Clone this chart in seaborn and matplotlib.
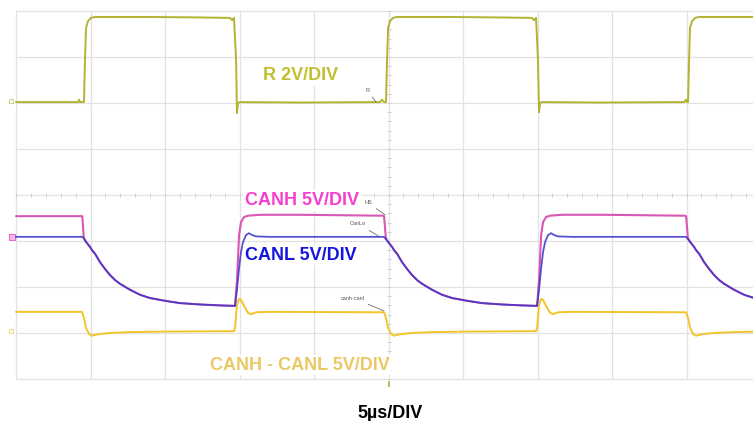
"""
CAN bus waveform capture (scope screenshot style) redrawn with seaborn.
Time in microseconds, vertical positions in screen divisions (0..8).
"""

import matplotlib

matplotlib.use("Agg")
import matplotlib.pyplot as plt
import numpy as np
import pandas as pd
import seaborn as sns

# ---- traces (t in us, v in divisions) ----
r_t = [0, 4.16, 4.23, 4.30, 4.56, 4.63, 4.70, 4.83, 5.03, 5.30, 8.99, 12.35,
       14.36, 14.50, 14.63, 14.77, 14.83, 14.90, 15.03, 19.06, 24.43, 24.56,
       24.70, 24.83, 24.90, 24.97, 25.10, 25.30, 25.57, 29.13, 32.48, 34.63,
       34.77, 34.90, 35.03, 35.10, 35.17, 35.30, 39.19, 44.83, 44.97, 45.03,
       45.10, 45.17, 45.23, 45.37, 45.57, 45.84, 49.5]
r_v = [6.02, 6.02, 6.07, 6.02, 6.02, 6.93, 7.63, 7.78, 7.85, 7.87, 7.87, 7.86,
       7.85, 7.80, 7.85, 6.93, 5.78, 6.00, 6.02, 6.01, 6.02, 6.07,
       6.02, 6.02, 6.93, 7.63, 7.78, 7.85, 7.87, 7.87, 7.86, 7.85,
       7.80, 7.85, 6.93, 5.80, 6.00, 6.02, 6.01, 6.02, 6.07, 6.02,
       6.02, 6.93, 7.63, 7.78, 7.85, 7.87, 7.87]

canh_t = [0, 4.45, 4.55, 4.70, 4.97, 5.10, 5.31, 5.64, 5.98, 6.31, 6.65, 6.98,
          7.65, 8.33, 9.00, 10.0, 11.0, 12.35, 13.69, 14.63,
          14.70, 14.83, 14.97, 15.10, 15.30, 15.57, 16.38, 19.06, 24.63, 24.70,
          24.82, 24.97, 25.24, 25.37, 25.58, 25.91, 26.25, 26.58, 26.92, 27.25,
          27.92, 28.60, 29.27, 30.27, 31.27, 32.62, 33.96, 34.90,
          34.97, 35.10, 35.24, 35.37, 35.57, 35.84, 36.65, 39.33, 44.90, 44.97,
          45.09, 45.24, 45.51, 45.64, 45.85, 46.18, 46.52, 46.85, 47.19, 47.52,
          48.19, 48.87, 49.54]
canh_v = [3.54, 3.54, 3.07, 2.98, 2.87, 2.80, 2.72, 2.54, 2.39, 2.26, 2.15, 2.07,
          1.94, 1.83, 1.76, 1.70, 1.65, 1.62, 1.60, 1.59,
          1.59, 2.15, 3.13, 3.41, 3.52, 3.55, 3.57, 3.57, 3.55, 3.54,
          3.07, 2.98, 2.87, 2.80, 2.72, 2.54, 2.39, 2.26, 2.15, 2.07,
          1.94, 1.83, 1.76, 1.70, 1.65, 1.62, 1.60, 1.59,
          1.59, 2.15, 3.13, 3.41, 3.52, 3.55, 3.57, 3.57, 3.55, 3.54,
          3.07, 2.98, 2.87, 2.80, 2.72, 2.54, 2.39, 2.26, 2.15, 2.07,
          1.94, 1.83, 1.76]

canl_t = [0, 4.48, 4.70, 4.97, 5.10, 5.31, 5.64, 5.98, 6.31, 6.65, 6.98,
          7.65, 8.33, 9.00, 10.0, 11.0, 12.35, 13.69, 14.63,
          14.70, 14.83, 14.97, 15.10, 15.24, 15.44, 15.64, 15.84, 16.11, 17.05,
          24.70, 24.97, 25.24, 25.37, 25.58, 25.91, 26.25, 26.58, 26.92, 27.25,
          27.92, 28.60, 29.27, 30.27, 31.27, 32.62, 33.96, 34.90,
          34.97, 35.10, 35.24, 35.37, 35.51, 35.71, 35.91, 36.11, 36.38, 37.32,
          44.97, 45.24, 45.51, 45.64, 45.85, 46.18, 46.52, 46.85, 47.19, 47.52,
          48.19, 48.87, 49.54]
canl_v = [3.09, 3.09, 2.98, 2.87, 2.80, 2.72, 2.54, 2.39, 2.26, 2.15, 2.07,
          1.94, 1.83, 1.76, 1.70, 1.65, 1.62, 1.60, 1.59,
          1.59, 1.94, 2.41, 2.76, 2.98, 3.13, 3.17, 3.13, 3.10, 3.09,
          3.09, 2.98, 2.87, 2.80, 2.72, 2.54, 2.39, 2.26, 2.15, 2.07,
          1.94, 1.83, 1.76, 1.70, 1.65, 1.62, 1.60, 1.59,
          1.59, 1.94, 2.41, 2.76, 2.98, 3.13, 3.17, 3.13, 3.10, 3.09,
          3.09, 2.98, 2.87, 2.80, 2.72, 2.54, 2.39, 2.26, 2.15, 2.07,
          1.94, 1.83, 1.76]

diff_t = [0, 4.43, 4.56, 4.70, 4.90, 5.10, 5.30, 5.64, 6.31, 7.65, 9.66, 14.63,
          14.70, 14.83, 14.97, 15.10, 15.30, 15.57, 15.77, 16.11, 17.05, 24.70,
          24.83, 24.97, 25.17, 25.37, 25.57, 25.91, 26.58, 27.92, 29.93, 34.90,
          34.97, 35.10, 35.24, 35.37, 35.57, 35.84, 36.04, 36.38, 37.32, 44.97,
          45.10, 45.24, 45.44, 45.64, 45.84, 46.18, 46.85, 48.19, 49.5]
diff_v = [1.46, 1.46, 1.33, 1.11, 0.98, 0.94, 0.96, 0.98, 1.00, 1.02, 1.03, 1.04,
          1.11, 1.61, 1.74, 1.72, 1.59, 1.44, 1.41, 1.45, 1.46, 1.45,
          1.33, 1.11, 0.98, 0.94, 0.96, 0.98, 1.00, 1.02, 1.03, 1.04,
          1.11, 1.61, 1.74, 1.72, 1.59, 1.44, 1.41, 1.45, 1.46, 1.45,
          1.33, 1.11, 0.98, 0.94, 0.96, 0.98, 1.00, 1.02, 1.03]

# channel labels: (text, colour, t_left, v_baseline)
labels = [
    ("R 2V/DIV", "#c2c02e", 16.58, 6.50),
    ("CANH 5V/DIV", "#f53fcf", 15.37, 3.78),
    ("CANL 5V/DIV", "#1515dd", 15.37, 2.59),
    ("CANH - CANL 5V/DIV", "#e9c865", 13.02, 0.20),
]
# small scope tags with leader lines: (text, tag pos, trace point)
tags = [
    ("R", (23.56, 6.28), (24.16, 6.02)),
    ("HS", (23.62, 3.83), (24.77, 3.57)),
    ("CanLo", (22.95, 3.37), (24.43, 3.09)),
    ("canh-canl", (22.62, 1.76), (24.70, 1.48)),
]

sns.set_theme(style="white")
plt.rcParams["font.family"] = ["Liberation Sans", "DejaVu Sans"]

fig = plt.figure(figsize=(7.53, 4.21), dpi=100)
ax = fig.add_axes([0, 0, 1, 1])
ax.set_xlim(-1.074, 49.46)
ax.set_ylim(-0.913, 8.239)

# screen graticule
grid_c = "#e2e2e2"
for t in range(0, 50, 5):
    ax.plot([t, t], [0, 8], color=grid_c, lw=0.9, zorder=1)
for v in range(0, 9):
    ax.plot([0, 49.46], [v, v], color=grid_c, lw=0.9, zorder=1)
mt = np.arange(0, 49.5, 1.0)
ax.plot(mt, np.full_like(mt, 4.0), ls="none", marker="|", ms=3,
        color="#cfcfcf", mew=0.7, zorder=1)
mv = np.arange(0, 8.01, 0.2)
ax.plot(np.full_like(mv, 25.0), mv, ls="none", marker="_", ms=3,
        color="#cfcfcf", mew=0.7, zorder=1)

traces = [
    (r_t, r_v, "#b3b332", 1.4, 1.0),
    (diff_t, diff_v, "#f2c52a", 1.4, 1.0),
    (canh_t, canh_v, "#d957b4", 1.5, 1.0),
    (canl_t, canl_v, "#3a34c8", 1.3, 0.85),
]
for tt, vv, col, lw, a in traces:
    df = pd.DataFrame({"t": tt, "v": vv})
    sns.lineplot(data=df, x="t", y="v", sort=False, estimator=None,
                 color=col, lw=lw, alpha=a, ax=ax, zorder=3)
ax.axis("off")

# channel ground markers at the left edge
ax.plot([-0.35], [6.05], marker="s", ms=3.5, mfc="none", mec="#d6d68a", mew=0.8)
ax.plot([-0.30], [3.09], marker="s", ms=4, mfc="#f3b6e6", mec="#e070c8", mew=0.8)
ax.plot([-0.35], [1.05], marker="s", ms=3.5, mfc="none", mec="#efd98a", mew=0.8)
ax.plot([25.0], [-0.1], marker="|", ms=5, color="#a8b23a", mew=1.2)

for txt, (tx, ty), (px, py) in tags:
    ax.annotate(txt, xy=(px, py), xytext=(tx, ty), fontsize=4, color="#555555",
                ha="center", va="center",
                arrowprops=dict(arrowstyle="-", color="#555555", lw=0.5,
                                shrinkA=1, shrinkB=0), zorder=4)

for txt, col, tx, ty in labels:
    ax.text(tx, ty, txt, color=col, fontsize=13, fontweight="bold",
            ha="left", va="baseline", zorder=5,
            bbox=dict(fc="white", ec="none", pad=1.2))

ax.text(22.89, -0.848, "5\u00b5s/DIV", color="black", fontsize=13,
        fontweight="bold", ha="left", va="baseline")

fig.savefig("out.png", dpi=100)
